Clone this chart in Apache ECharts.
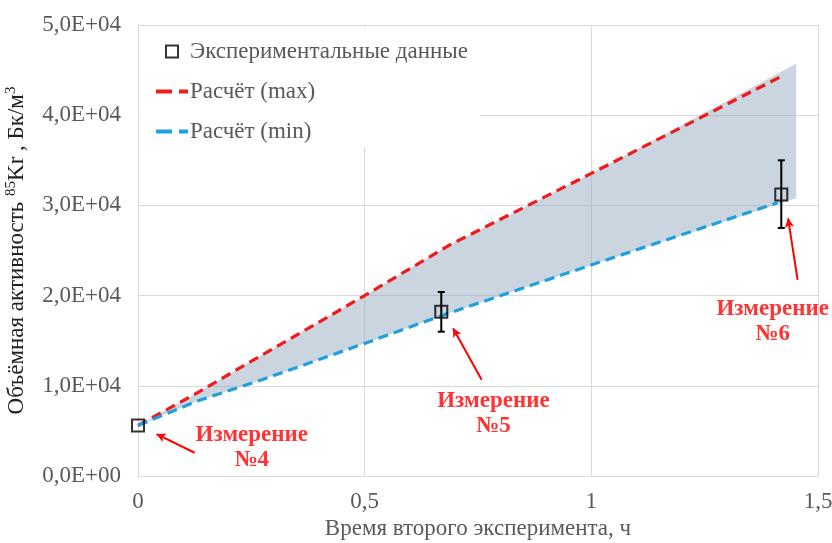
<!DOCTYPE html>
<html>
<head>
<meta charset="utf-8">
<script src="https://cdn.jsdelivr.net/npm/echarts@6/dist/echarts.min.js"></script>
<style>
  html, body { margin: 0; padding: 0; background: #fff; }
  #chart { width: 832px; height: 543px; }
</style>
</head>
<body>
<div id="chart"></div>
<script>
// Measured activity (Bq/m3) with uncertainty
const expTime = [0, 0.669, 1.419];
const expValue = [5600, 18200, 31200];
const expLow = [5600, 16000, 27500];
const expHigh = [5600, 20400, 35000];

// Calculated curves
const calcTime = [0, 0.13, 0.28, 0.5, 0.687, 1.0, 1.423];
const calcMax = [5600, 9200, 13600, 20000, 25600, 33550, 44400];
const calcMinTime = [0, 0.13, 0.275, 0.5, 0.668, 1.0, 1.411];
const calcMin = [5600, 8300, 10700, 14700, 17750, 23400, 30300];

// Uncertainty band between the two calculations
const bandTime = [0, 0.13, 0.28, 0.5, 0.687, 1.0, 1.452];
const bandUpper = [5600, 9200, 13600, 20000, 25600, 33550, 45700];
const bandLowerTime = [1.452, 1.0, 0.668, 0.5, 0.275, 0.13, 0];
const bandLower = [30800, 23400, 17750, 14700, 10700, 8300, 5600];

// Callout labels and their arrows
const noteText = ['Измерение\n№4', 'Измерение\n№5', 'Измерение\n№6'];
const noteX = [0.251, 0.784, 1.400];
const noteY = [3150, 6900, 17100];
const arrowFrom = [[0.125, 2580], [0.758, 10660], [1.455, 21740]];
const arrowTo = [[0.041, 4650], [0.695, 16390], [1.434, 28570]];

const xTicks = { min: 0, max: 1.5, interval: 0.5 };
const yTicks = { min: 0, max: 50000, interval: 10000 };

const SERIF = '"Liberation Serif", "Times New Roman", serif';
const GREY = '#595959';
const GRID = '#d9d9d9';
const RED = '#ee1c1c';
const BLUE = '#1ea0dc';
const FS = 23;

const chart = echarts.init(document.getElementById('chart'));

function yFmt(v) {
  if (v === 0) return '0,0E+00';
  return (v / 10000).toFixed(1).replace('.', ',') + 'E+04';
}
function xFmt(v) {
  return String(v).replace('.', ',');
}

const option = {
  backgroundColor: '#fff',
  animation: false,
  grid: { left: 138, right: 14, top: 25, bottom: 67, containLabel: false, outerBoundsMode: 'none' },
  legend: {
    orient: 'vertical',
    left: 140,
    top: 28,
    backgroundColor: '#fff',
    padding: [12, 12, 4, 16],
    itemGap: 17,
    itemWidth: 32,
    itemHeight: 12,
    textStyle: { fontFamily: SERIF, fontSize: FS, color: GREY, lineHeight: 21, padding: [0, 0, 0, -3] },
    data: [
      { name: 'Экспериментальные данные', icon: 'path://M0,0h10v10h-10z',
        itemStyle: { color: 'rgba(0,0,0,0)', borderColor: '#000', borderWidth: 2 } },
      { name: 'Расчёт (max)', icon: 'path://M0,0h16v4h-16zM23,0h9v4h-9z', itemStyle: { color: RED } },
      { name: 'Расчёт (min)', icon: 'path://M0,0h16v4h-16zM23,0h9v4h-9z', itemStyle: { color: BLUE } }
    ]
  },
  xAxis: {
    type: 'value',
    min: xTicks.min, max: xTicks.max, interval: xTicks.interval,
    name: 'Время второго эксперимента, ч',
    nameLocation: 'middle',
    nameGap: 39,
    nameTextStyle: { fontFamily: SERIF, fontSize: FS, color: GREY },
    axisLine: { show: true, lineStyle: { color: GRID, width: 1 } },
    axisTick: { show: false },
    axisLabel: { margin: 14, fontFamily: SERIF, fontSize: FS, color: GREY, formatter: xFmt },
    splitLine: { show: true, lineStyle: { color: GRID, width: 1 } }
  },
  yAxis: {
    type: 'value',
    min: yTicks.min, max: yTicks.max, interval: yTicks.interval,
    name: 'Объёмная активность {s|85}Kr , Бк/м{s|3}',
    nameLocation: 'middle',
    nameGap: 102,
    nameRotate: 90,
    nameTextStyle: {
      fontFamily: SERIF, fontSize: FS, color: '#222', lineHeight: 28,
      rich: { s: { fontFamily: SERIF, fontSize: 15, color: '#222', verticalAlign: 'top', lineHeight: 28 } }
    },
    axisLine: { show: true, lineStyle: { color: GRID, width: 1 } },
    axisTick: { show: false },
    axisLabel: { margin: 17, fontFamily: SERIF, fontSize: FS, color: GREY, formatter: yFmt },
    splitLine: { show: true, lineStyle: { color: GRID, width: 1 } }
  },
  series: [
    {
      // shaded region between the max and min calculations
      name: 'band',
      type: 'custom',
      z: 1,
      silent: true,
      data: [0],
      renderItem: function (params, api) {
        const pts = [];
        for (let i = 0; i < bandTime.length; i++) pts.push(api.coord([bandTime[i], bandUpper[i]]));
        for (let i = 0; i < bandLowerTime.length; i++) pts.push(api.coord([bandLowerTime[i], bandLower[i]]));
        return { type: 'polygon', shape: { points: pts }, style: { fill: 'rgba(145,166,190,0.47)' } };
      }
    },
    {
      name: 'Расчёт (max)',
      type: 'line',
      z: 3,
      symbol: 'none',
      color: RED,
      lineStyle: { color: RED, width: 3.2, type: [10, 6] },
      data: calcTime.map((t, i) => [t, calcMax[i]])
    },
    {
      name: 'Расчёт (min)',
      type: 'line',
      z: 3,
      symbol: 'none',
      color: BLUE,
      lineStyle: { color: BLUE, width: 3.2, type: [10, 6] },
      data: calcMinTime.map((t, i) => [t, calcMin[i]])
    },
    {
      // error bars on the measurements
      name: 'errors',
      type: 'custom',
      z: 4,
      silent: true,
      data: expTime.map((t, i) => [t, expLow[i], expHigh[i]]),
      renderItem: function (params, api) {
        const lo = api.coord([api.value(0), api.value(1)]);
        const hi = api.coord([api.value(0), api.value(2)]);
        if (Math.abs(hi[1] - lo[1]) < 1) return null;
        const st = { stroke: '#000', lineWidth: 2 };
        return {
          type: 'group',
          children: [
            { type: 'line', shape: { x1: lo[0], y1: lo[1], x2: hi[0], y2: hi[1] }, style: st },
            { type: 'line', shape: { x1: lo[0] - 3.5, y1: lo[1], x2: lo[0] + 3.5, y2: lo[1] }, style: st },
            { type: 'line', shape: { x1: hi[0] - 3.5, y1: hi[1], x2: hi[0] + 3.5, y2: hi[1] }, style: st }
          ]
        };
      }
    },
    {
      name: 'Экспериментальные данные',
      type: 'scatter',
      z: 5,
      symbol: 'rect',
      symbolSize: 12,
      itemStyle: { color: 'rgba(0,0,0,0)', borderColor: '#000', borderWidth: 2 },
      data: expTime.map((t, i) => [t, expValue[i]]),
      markLine: {
        silent: true,
        symbol: ['none', 'arrow'],
        symbolSize: [7, 9],
        label: { show: false },
        lineStyle: { color: '#ff0000', width: 2, type: 'solid' },
        data: arrowFrom.map((a, i) => [{ coord: a }, { coord: arrowTo[i] }])
      }
    },
    {
      name: 'notes',
      type: 'scatter',
      z: 6,
      silent: true,
      symbolSize: 0,
      data: noteX.map((x, i) => ({ value: [x, noteY[i]], text: noteText[i] })),
      label: {
        show: true,
        position: 'inside',
        formatter: p => p.data.text,
        fontFamily: SERIF,
        fontWeight: 'bold',
        fontSize: FS,
        lineHeight: 25,
        color: '#ff0000',
        align: 'center',
        verticalAlign: 'middle'
      }
    }
  ]
};

chart.setOption(option);
</script>
</body>
</html>
